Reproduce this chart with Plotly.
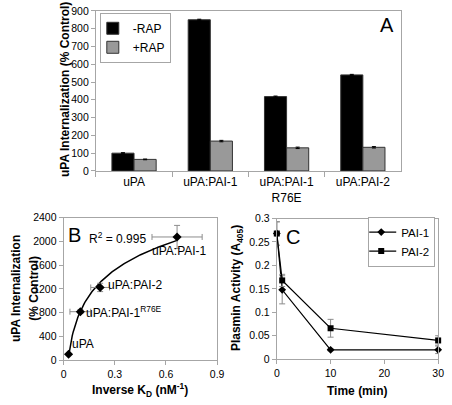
import numpy as np
import plotly.graph_objects as go

FONT = "Arial, 'Liberation Sans', sans-serif"
W, H = 452, 405

# ---------- Panel A data ----------
a_categories = ["uPA", "uPA:PAI-1", "uPA:PAI-1<br>R76E", "uPA:PAI-2"]
a_minus_rap = [100, 850, 418, 540]
a_minus_rap_err = [3, 3, 3, 3]
a_plus_rap = [65, 168, 130, 133]
a_plus_rap_err = [2, 4, 4, 4]

# ---------- Panel B data ----------
b_inverse_kd = [0.029, 0.098, 0.214, 0.665]
b_inverse_kd_err = [0.0, 0.061, 0.055, 0.147]
b_internalization = [100, 816, 1224, 2073]
b_internalization_err = [0, 30, 70, 195]

# ---------- Panel C data ----------
c_time = [0, 1, 10, 30]
c_pai1 = [0.268, 0.148, 0.020, 0.020]
c_pai1_err = [0.025, 0.030, 0.002, 0.008]
c_pai2 = [0.268, 0.168, 0.066, 0.040]
c_pai2_err = [0.025, 0.013, 0.019, 0.010]

GRAY_LINE = "#a6a6a6"
ERR_GRAY = "#8c8c8c"

fig = go.Figure()

# Panel A bars
fig.add_trace(go.Bar(
    x=a_categories, y=a_minus_rap, name="-RAP",
    marker=dict(color="#000000", line=dict(color="#333333", width=1)),
    error_y=dict(type="data", array=a_minus_rap_err, color="#000000", thickness=1, width=2),
    xaxis="x", yaxis="y", legend="legend",
))
fig.add_trace(go.Bar(
    x=a_categories, y=a_plus_rap, name="+RAP",
    marker=dict(color="#999999", line=dict(color="#333333", width=1)),
    error_y=dict(type="data", array=a_plus_rap_err, color="#000000", thickness=1, width=2),
    xaxis="x", yaxis="y", legend="legend",
))

# Panel B: logarithmic trendline fitted to the data
coef = np.polyfit(np.log(b_inverse_kd), b_internalization, 1)
xfit = np.linspace(min(b_inverse_kd), max(b_inverse_kd), 120)
yfit = coef[0] * np.log(xfit) + coef[1]
fig.add_trace(go.Scatter(
    x=xfit, y=yfit, mode="lines", line=dict(color="#000000", width=1.5),
    xaxis="x2", yaxis="y2", showlegend=False, hoverinfo="skip",
))
fig.add_trace(go.Scatter(
    x=b_inverse_kd, y=b_internalization, mode="markers",
    marker=dict(symbol="diamond", size=7, color="#000000"),
    error_x=dict(type="data", array=b_inverse_kd_err, color=ERR_GRAY, thickness=1, width=3),
    error_y=dict(type="data", array=b_internalization_err, color=ERR_GRAY, thickness=1, width=3),
    xaxis="x2", yaxis="y2", showlegend=False,
))

# Panel C
fig.add_trace(go.Scatter(
    x=c_time, y=c_pai1, mode="lines+markers", name="PAI-1",
    line=dict(color="#000000", width=1.2),
    marker=dict(symbol="diamond", size=6, color="#000000"),
    error_y=dict(type="data", array=c_pai1_err, color=ERR_GRAY, thickness=1, width=3),
    xaxis="x3", yaxis="y3", legend="legend2", cliponaxis=False,
))
fig.add_trace(go.Scatter(
    x=c_time, y=c_pai2, mode="lines+markers", name="PAI-2",
    line=dict(color="#000000", width=1.2),
    marker=dict(symbol="square", size=6, color="#000000"),
    error_y=dict(type="data", array=c_pai2_err, color=ERR_GRAY, thickness=1, width=3),
    xaxis="x3", yaxis="y3", legend="legend2", cliponaxis=False,
))

def px(x):
    return x / W

def py(y):
    return 1 - y / H

tickfont = dict(family=FONT, size=10.5, color="#000000")
axis_common = dict(
    showgrid=False, zeroline=False, showline=True, linecolor=GRAY_LINE, linewidth=1,
    mirror=True, ticks="outside", ticklen=4, tickcolor=GRAY_LINE, tickfont=tickfont,
)

fig.update_layout(
    width=W, height=H,
    margin=dict(l=0, r=0, t=0, b=0),
    paper_bgcolor="white", plot_bgcolor="white",
    font=dict(family=FONT, color="#000000", size=12),
    barmode="group", bargap=0.42, bargroupgap=0,
    xaxis=dict(axis_common, domain=[px(95), px(407)], anchor="y", type="category",
               tickson="boundaries", tickfont=dict(family=FONT, size=12, color="#000000"),
               ticklen=5),
    yaxis=dict(axis_common, domain=[py(170), py(5)], anchor="x", range=[0, 900], dtick=100),
    xaxis2=dict(axis_common, domain=[px(62), px(219)], anchor="y2", range=[0, 0.9], dtick=0.3,
                tickformat="~g"),
    yaxis2=dict(axis_common, domain=[py(365), py(218)], anchor="x2", range=[0, 2400], dtick=400),
    xaxis3=dict(axis_common, domain=[px(280), px(445)], anchor="y3", range=[0, 30], dtick=10),
    yaxis3=dict(axis_common, domain=[py(364), py(219)], anchor="x3", range=[0, 0.3], dtick=0.05),
    legend=dict(x=px(99), y=py(7), xanchor="left", yanchor="top",
                bordercolor=GRAY_LINE, borderwidth=1, bgcolor="white",
                font=dict(family=FONT, size=12), itemwidth=30, tracegroupgap=0,
                traceorder="normal", indentation=-8),
    legend2=dict(x=px(442), y=py(217), xanchor="right", yanchor="top",
                 bordercolor=GRAY_LINE, borderwidth=1, bgcolor="white",
                 font=dict(family=FONT, size=11.5), itemwidth=30, tracegroupgap=0,
                 indentation=-8),
)

title_font = dict(family=FONT, size=12, color="#000000")
ann = []
# Panel letters
ann.append(dict(text="A", x=px(393), y=py(20), font=dict(family=FONT, size=20)))
ann.append(dict(text="B", x=px(73), y=py(236), font=dict(family=FONT, size=20)))
ann.append(dict(text="C", x=px(297), y=py(238), font=dict(family=FONT, size=20)))
# Axis titles
ann.append(dict(text="<b>uPA Internalization (% Control)</b>", x=px(64), y=py(86),
                textangle=-90, font=title_font))
ann.append(dict(text="<b>uPA Internalization</b>", x=px(14), y=py(291),
                textangle=-90, font=title_font))
ann.append(dict(text="<b>(% Control)</b>", x=px(32), y=py(291),
                textangle=-90, font=title_font))
ann.append(dict(text="<b>Inverse K<sub>D</sub> (nM<sup>-1</sup>)</b>", x=px(140), y=py(396),
                font=title_font))
ann.append(dict(text="<b>Plasmin Activity (A<sub>405</sub>)</b>", x=px(240), y=py(291),
                textangle=-90, font=title_font))
ann.append(dict(text="<b>Time (min)</b>", x=px(362), y=py(397), font=title_font))
# Panel B labels
lab_font = dict(family=FONT, size=12, color="#000000")
ann.append(dict(text="R<sup>2</sup> = 0.995", x=px(117), y=py(239), font=lab_font))
ann.append(dict(text="uPA:PAI-1", x=px(181), y=py(252), font=lab_font))
ann.append(dict(text="uPA:PAI-2", x=px(136), y=py(288), font=lab_font))
ann.append(dict(text="uPA:PAI-1<sup>R76E</sup>", x=px(124), y=py(315), font=lab_font))
ann.append(dict(text="uPA", x=px(82), y=py(348), font=lab_font))

for a in ann:
    a.update(xref="paper", yref="paper", showarrow=False, xanchor="center", yanchor="middle")
fig.update_layout(annotations=ann)

fig.write_html(
    "out.html",
    config={"displayModeBar": False},
    post_script="document.body.style.margin='0';document.body.style.padding='0';",
)
